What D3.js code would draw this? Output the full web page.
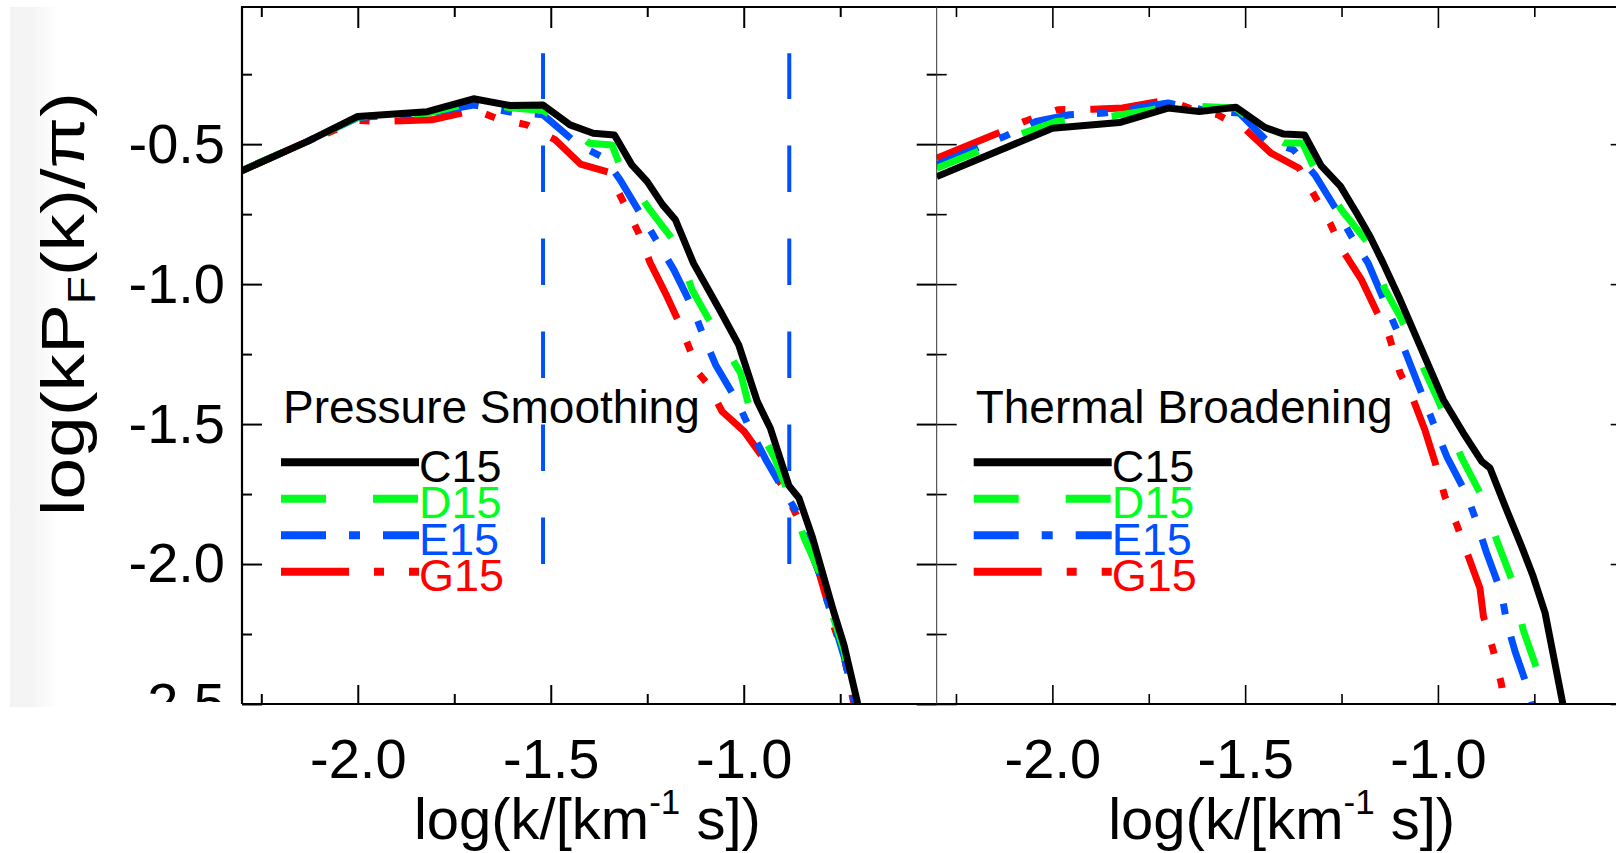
<!DOCTYPE html>
<html>
<head>
<meta charset="utf-8">
<script src="https://cdn.jsdelivr.net/npm/d3@7"></script>
<style>
  body { margin: 0; background: #fff; }
  text { font-family: "Liberation Sans", Arial, Helvetica, sans-serif; }
</style>
</head>
<body>
<svg id="chart"></svg>
<script>
const width = 1616;
const height = 853;

// axis ticks
const xMajor = [-2.0, -1.5, -1.0];
const xMinor = [-2.25, -1.75, -1.25, -0.75];
const yMajor = [-0.5, -1.0, -1.5, -2.0, -2.5];
const yMinor = [-0.25, -0.75, -1.25, -1.75, -2.25];

const seriesNames = ['C15', 'D15', 'E15', 'G15'];
const seriesColors = ['#000000', '#00ff1e', '#0050ff', '#ff0000'];
const seriesDash = [null, '45,47', '45,23,11,23', '68,25,10,25,10,25'];

// Pressure smoothing panel, [log k, log(kP/pi)]
const pressC15 = [[-2.3,-0.595],[-2.13,-0.49],[-2.0,-0.401],[-1.82,-0.384],[-1.70,-0.338],[-1.605,-0.362],[-1.52,-0.36],[-1.45,-0.431],[-1.39,-0.461],[-1.335,-0.467],[-1.29,-0.574],[-1.25,-0.634],[-1.21,-0.717],[-1.177,-0.77],[-1.13,-0.926],[-1.06,-1.098],[-1.013,-1.217],[-0.965,-1.419],[-0.931,-1.515],[-0.883,-1.72],[-0.857,-1.764],[-0.823,-1.90],[-0.767,-2.17],[-0.74,-2.29],[-0.706,-2.49],[-0.70,-2.55]];
const pressD15 = [[-2.3,-0.594],[-2.13,-0.49],[-2.0,-0.403],[-1.82,-0.39],[-1.70,-0.35],[-1.605,-0.37],[-1.52,-0.38],[-1.45,-0.44],[-1.40,-0.497],[-1.341,-0.503],[-1.32,-0.58],[-1.246,-0.729],[-1.173,-0.86],[-1.134,-1.02],[-1.078,-1.157],[-1.008,-1.318],[-0.982,-1.461],[-0.922,-1.616],[-0.883,-1.75],[-0.844,-1.905],[-0.80,-2.04],[-0.77,-2.18],[-0.74,-2.31],[-0.712,-2.5],[-0.705,-2.55]];
const pressE15 = [[-2.3,-0.594],[-2.13,-0.49],[-2.0,-0.405],[-1.82,-0.39],[-1.70,-0.36],[-1.605,-0.385],[-1.52,-0.395],[-1.428,-0.503],[-1.36,-0.55],[-1.32,-0.628],[-1.263,-0.759],[-1.224,-0.849],[-1.181,-0.949],[-1.13,-1.092],[-1.104,-1.187],[-1.073,-1.288],[-1.017,-1.419],[-0.983,-1.52],[-0.94,-1.634],[-0.90,-1.729],[-0.86,-1.82],[-0.805,-2.03],[-0.784,-2.13],[-0.74,-2.33],[-0.712,-2.5],[-0.705,-2.55]];
const pressG15 = [[-2.3,-0.594],[-2.13,-0.49],[-2.0,-0.415],[-1.94,-0.419],[-1.808,-0.413],[-1.696,-0.378],[-1.64,-0.408],[-1.562,-0.431],[-1.488,-0.485],[-1.423,-0.571],[-1.35,-0.60],[-1.272,-0.818],[-1.242,-0.925],[-1.203,-1.032],[-1.165,-1.145],[-1.134,-1.253],[-1.125,-1.306],[-1.095,-1.354],[-1.056,-1.455],[-0.999,-1.526],[-0.952,-1.616],[-0.90,-1.72],[-0.862,-1.83],[-0.805,-2.03],[-0.784,-2.13],[-0.767,-2.22],[-0.74,-2.33],[-0.716,-2.49],[-0.71,-2.55]];

// Thermal broadening panel
const thermC15 = [[-2.3,-0.616],[-2.0,-0.443],[-1.826,-0.423],[-1.70,-0.371],[-1.619,-0.383],[-1.524,-0.368],[-1.449,-0.44],[-1.40,-0.464],[-1.346,-0.467],[-1.303,-0.577],[-1.253,-0.65],[-1.211,-0.746],[-1.176,-0.83],[-1.142,-0.925],[-1.098,-1.056],[-0.986,-1.413],[-0.934,-1.532],[-0.886,-1.634],[-0.865,-1.657],[-0.822,-1.806],[-0.783,-1.937],[-0.753,-2.044],[-0.722,-2.175],[-0.70,-2.33],[-0.676,-2.5],[-0.67,-2.55]];
const thermD15 = [[-2.3,-0.586],[-2.077,-0.461],[-1.99,-0.419],[-1.852,-0.401],[-1.74,-0.377],[-1.70,-0.36],[-1.524,-0.371],[-1.45,-0.455],[-1.399,-0.496],[-1.351,-0.496],[-1.323,-0.58],[-1.25,-0.735],[-1.181,-0.853],[-1.137,-1.02],[-1.098,-1.116],[-1.0,-1.413],[-0.94,-1.616],[-0.884,-1.764],[-0.848,-1.913],[-0.805,-2.068],[-0.779,-2.234],[-0.74,-2.389],[-0.72,-2.5],[-0.714,-2.55]];
const thermE15 = [[-2.3,-0.574],[-2.125,-0.473],[-2.042,-0.419],[-1.956,-0.395],[-1.865,-0.389],[-1.70,-0.353],[-1.60,-0.38],[-1.515,-0.389],[-1.446,-0.485],[-1.375,-0.52],[-1.319,-0.61],[-1.263,-0.735],[-1.224,-0.83],[-1.181,-0.925],[-1.137,-1.068],[-1.107,-1.163],[-1.012,-1.496],[-0.977,-1.616],[-0.925,-1.753],[-0.90,-1.848],[-0.875,-1.955],[-0.835,-2.104],[-0.822,-2.205],[-0.80,-2.312],[-0.761,-2.467],[-0.755,-2.5],[-0.75,-2.55]];
const thermG15 = [[-2.3,-0.55],[-2.142,-0.461],[-2.073,-0.419],[-1.986,-0.377],[-1.895,-0.375],[-1.818,-0.371],[-1.701,-0.342],[-1.645,-0.371],[-1.571,-0.395],[-1.498,-0.449],[-1.433,-0.532],[-1.36,-0.586],[-1.28,-0.782],[-1.245,-0.884],[-1.198,-0.985],[-1.159,-1.098],[-1.129,-1.175],[-1.098,-1.318],[-1.064,-1.413],[-1.034,-1.52],[-1.008,-1.634],[-0.982,-1.758],[-0.951,-1.86],[-0.891,-2.086],[-0.882,-2.187],[-0.857,-2.306],[-0.835,-2.431],[-0.828,-2.5],[-0.822,-2.55]];

// vertical markers in the pressure panel (log k), and their extent
const smoothingMarks = [-1.52, -0.882];
const markRange = [-2.0, -0.175];

const panels = [
  { id: 'p', title: 'Pressure Smoothing', series: [pressC15, pressD15, pressE15, pressG15], x0: 242, x1: 936.7, marks: smoothingMarks, labels: true },
  { id: 't', title: 'Thermal Broadening', series: [thermC15, thermD15, thermE15, thermG15], x0: 936.7, x1: 1630.7, marks: [], labels: false }
];

const plotTop = 7, plotBottom = 704;
const y = d3.scaleLinear().domain([-2.5, -0.01]).range([plotBottom, plotTop]);
const fmt = d => d.toFixed(1);   // plain hyphen minus, as in the original

const svg = d3.select('#chart')
  .attr('width', width)
  .attr('height', height)
  .attr('viewBox', [0, 0, width, height]);

svg.append('rect').attr('width', width).attr('height', height).attr('fill', '#fff');

// faint grey strip left of the y title, as in the scan
const defs = svg.append('defs');
const grad = defs.append('linearGradient').attr('id', 'strip');
grad.append('stop').attr('offset', '0%').attr('stop-color', '#f3f3f3');
grad.append('stop').attr('offset', '45%').attr('stop-color', '#f4f4f4');
grad.append('stop').attr('offset', '100%').attr('stop-color', '#ffffff');
svg.append('rect').attr('x', 10).attr('y', 7).attr('width', 48).attr('height', 700).attr('fill', 'url(#strip)');

// the scan cuts the lowest y label off at the frame
defs.append('clipPath').attr('id', 'ylabclip')
  .append('rect').attr('x', 0).attr('y', 0).attr('width', 240).attr('height', 702);

const line = d3.line();

panels.forEach(p => {
  const x = d3.scaleLinear().domain([-2.3, -0.5]).range([p.x0, p.x1]);
  line.x(d => x(d[0])).y(d => y(d[1]));

  defs.append('clipPath').attr('id', 'clip-' + p.id)
    .append('rect').attr('x', p.x0).attr('y', plotTop).attr('width', p.x1 - p.x0).attr('height', plotBottom - plotTop);

  const g = svg.append('g');

  // blue dashed markers
  g.selectAll('line.mark')
    .data(p.marks)
    .join('line')
      .attr('class', 'mark')
      .attr('x1', d => x(d)).attr('x2', d => x(d))
      .attr('y1', y(markRange[0])).attr('y2', y(markRange[1]))
      .attr('stroke', '#0050ff')
      .attr('stroke-width', 4)
      .attr('stroke-dasharray', '46.5,46.5');

  // curves, drawn G15 first so C15 sits on top
  const order = [3, 2, 1, 0];
  g.append('g').attr('clip-path', 'url(#clip-' + p.id + ')')
    .selectAll('path')
    .data(order)
    .join('path')
      .attr('d', i => line(p.series[i]))
      .attr('fill', 'none')
      .attr('stroke', i => seriesColors[i])
      .attr('stroke-width', 7)
      .attr('stroke-linejoin', 'round')
      .attr('stroke-dasharray', i => seriesDash[i]);

  // axes, ticks pointing inward on all four sides
  const tickW = p.labels ? 2 : 1.6;
  g.append('g').attr('transform', `translate(0,${plotBottom})`)
    .call(d3.axisBottom(x).tickValues(xMajor).tickSize(-19).tickPadding(34).tickFormat(fmt));
  g.append('g').attr('transform', `translate(0,${plotBottom})`)
    .call(d3.axisBottom(x).tickValues(xMinor).tickSize(-10).tickFormat(''));
  g.append('g').attr('transform', `translate(0,${plotTop})`)
    .call(d3.axisTop(x).tickValues(xMajor).tickSize(-21).tickFormat(''));
  g.append('g').attr('transform', `translate(0,${plotTop})`)
    .call(d3.axisTop(x).tickValues(xMinor).tickSize(-10).tickFormat(''));

  g.append('g').attr('clip-path', p.labels ? 'url(#ylabclip)' : null)
    .append('g').attr('transform', `translate(${p.x0},0)`)
    .call(d3.axisLeft(y).tickValues(yMajor).tickSize(-20).tickPadding(17).tickFormat(p.labels ? fmt : ''));
  if (p.labels) {
    // ticks themselves are not clipped
    g.append('g').attr('transform', `translate(${p.x0},0)`)
      .call(d3.axisLeft(y).tickValues(yMajor).tickSize(-20).tickFormat(''));
  }
  g.append('g').attr('transform', `translate(${p.x0},0)`)
    .call(d3.axisLeft(y).tickValues(yMinor).tickSize(-10).tickFormat(''));
  g.append('g').attr('transform', `translate(${p.x1},0)`)
    .call(d3.axisRight(y).tickValues(yMajor).tickSize(-20).tickFormat(''));
  g.append('g').attr('transform', `translate(${p.x1},0)`)
    .call(d3.axisRight(y).tickValues(yMinor).tickSize(-10).tickFormat(''));

  g.selectAll('.domain').remove();
  g.selectAll('.tick line').attr('stroke', '#000').attr('stroke-width', tickW);
  g.selectAll('.tick text').attr('fill', '#000').attr('font-size', 56)
    .attr('font-family', '"Liberation Sans", Arial, sans-serif');

  // legend
  const lx = p.x0 + (p.labels ? 39 : 37);
  g.append('text')
    .attr('x', lx + 2).attr('y', 423)
    .attr('font-size', 46)
    .text(p.title);
  const rows = g.selectAll('g.leg')
    .data(seriesNames)
    .join('g')
      .attr('class', 'leg')
      .attr('transform', (d, i) => `translate(${lx},${462.3 + i * 36.5})`);
  rows.append('line')
    .attr('x1', 0).attr('x2', 138)
    .attr('stroke', (d, i) => seriesColors[i])
    .attr('stroke-width', 8)
    .attr('stroke-dasharray', (d, i) => seriesDash[i]);
  rows.append('text')
    .attr('x', 138).attr('y', 19.5)
    .attr('font-size', 45)
    .attr('fill', (d, i) => seriesColors[i])
    .text(d => d);

  // x title
  const xt = g.append('text')
    .attr('x', (p.x0 + p.x1) / 2 - 2).attr('y', 839)
    .attr('text-anchor', 'middle')
    .attr('font-size', 58);
  xt.append('tspan').text('log(k/[km');
  xt.append('tspan').attr('font-size', 35).attr('dy', -25).text('-1');
  xt.append('tspan').attr('dy', 25).text(' s])');
});

// frame lines
svg.append('path')
  .attr('d', `M242,${plotBottom}V${plotTop}H${width}M242,${plotBottom}H${width}`)
  .attr('fill', 'none').attr('stroke', '#000').attr('stroke-width', 2.2);
svg.append('line')
  .attr('x1', 936.7).attr('x2', 936.7).attr('y1', plotTop).attr('y2', plotBottom)
  .attr('stroke', '#333').attr('stroke-width', 1);

// y title, stretched along its length like the original
const yt = svg.append('text')
  .attr('transform', 'translate(84,304) rotate(-90)')
  .attr('text-anchor', 'middle')
  .attr('font-size', 62)
  .attr('textLength', 424)
  .attr('lengthAdjust', 'spacingAndGlyphs');
yt.append('tspan').text('log(kP');
yt.append('tspan').attr('font-size', 38).attr('dy', 11).text('F');
yt.append('tspan').attr('dy', -11).text('(k)/\u03c0)');
</script>
</body>
</html>
